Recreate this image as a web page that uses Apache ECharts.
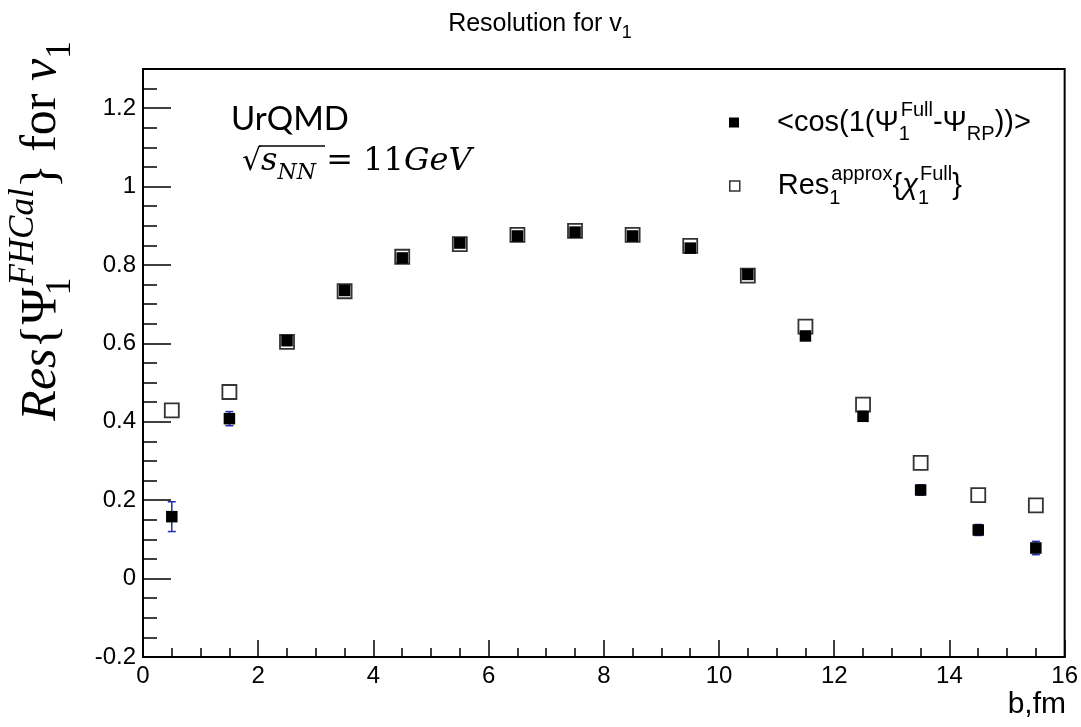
<!DOCTYPE html>
<html>
<head>
<meta charset="utf-8">
<script src="https://cdn.jsdelivr.net/npm/echarts@6/dist/echarts.min.js"></script>
<style>
html,body{margin:0;padding:0;background:#fff;}
#c{width:1081px;height:727px;}
</style>
</head>
<body>
<div id="c"></div>
<script>
// impact parameter bin centres (fm)
var bVals = [0.5, 1.5, 2.5, 3.5, 4.5, 5.5, 6.5, 7.5, 8.5, 9.5, 10.5, 11.5, 12.5, 13.5, 14.5, 15.5];
// <cos(1(Psi_1^Full - Psi_RP))>
var cosVals = [0.158, 0.408, 0.607, 0.735, 0.818, 0.856, 0.874, 0.884, 0.874, 0.843, 0.776, 0.619, 0.414, 0.226, 0.124, 0.078];
var cosErr  = [0.038, 0.018, 0.012, 0.010, 0.008, 0.007, 0.006, 0.006, 0.006, 0.007, 0.008, 0.010, 0.012, 0.013, 0.014, 0.017];
// Res_1^approx{chi_1^Full}
var resVals = [0.429, 0.476, 0.604, 0.733, 0.821, 0.853, 0.877, 0.887, 0.877, 0.849, 0.773, 0.643, 0.444, 0.295, 0.213, 0.187];
// axis ticks
var xMin = 0, xMax = 16, xMajor = 2, xMinor = 0.5;
var yMin = -0.2, yMax = 1.3, yMajor = 0.2, yMinor = 0.05;

var SANS = '"Liberation Sans", Arial, Helvetica, sans-serif';
var SERIF = '"Liberation Serif", "Times New Roman", serif';
var MATH = '"DejaVu Serif", "Liberation Serif", serif';

var chart = echarts.init(document.getElementById('c'), null, {renderer: 'canvas'});

var cosData = bVals.map(function (b, i) { return [b, cosVals[i]]; });
var resData = bVals.map(function (b, i) { return [b, resVals[i]]; });
var errData = bVals.map(function (b, i) { return [b, cosVals[i], cosErr[i]]; });

var legRich = {
  m:   {fontFamily: SANS, fontSize: 29, lineHeight: 44, verticalAlign: 'middle', color: '#000'},
  m0:  {fontFamily: SANS, fontSize: 29, lineHeight: 44, verticalAlign: 'middle', color: '#000', padding: [0, 0, 0, 33]},
  sub: {fontFamily: SANS, fontSize: 20, lineHeight: 26, verticalAlign: 'bottom', color: '#000', width: 2},
  subw:{fontFamily: SANS, fontSize: 20, lineHeight: 26, verticalAlign: 'bottom', color: '#000'},
  sup: {fontFamily: SANS, fontSize: 20, lineHeight: 28, verticalAlign: 'top', color: '#000'},
  chi: {fontFamily: SANS, fontSize: 29, lineHeight: 44, verticalAlign: 'middle', color: '#000', fontStyle: 'italic'}
};

var option = {
  animation: false,
  backgroundColor: '#fff',
  grid: {left: 143, right: 15, top: 69, bottom: 70, show: true, borderColor: '#000', borderWidth: 2, backgroundColor: 'transparent'},
  xAxis: [{
    type: 'value', min: xMin, max: xMax, interval: xMajor, position: 'bottom',
    axisLine: {show: true, onZero: false, lineStyle: {color: '#000', width: 2}},
    axisTick: {show: true, inside: true, length: 17, lineStyle: {color: '#000', width: 1.5}},
    axisLabel: {color: '#000', fontFamily: SANS, fontSize: 24, margin: 7},
    splitLine: {show: false}
  }, {
    type: 'value', min: xMin, max: xMax, interval: xMinor, position: 'bottom',
    axisLine: {show: false, onZero: false},
    axisTick: {show: true, inside: true, length: 9, lineStyle: {color: '#000', width: 1.5}},
    axisLabel: {show: false},
    splitLine: {show: false}
  }],
  yAxis: [{
    type: 'value', min: yMin, max: yMax, interval: yMajor, position: 'left',
    axisLine: {show: true, onZero: false, lineStyle: {color: '#000', width: 2}},
    axisTick: {show: true, inside: true, length: 28, lineStyle: {color: '#000', width: 1.5}},
    axisLabel: {color: '#000', fontFamily: SANS, fontSize: 24, margin: 7, showMaxLabel: false},
    splitLine: {show: false}
  }, {
    type: 'value', min: yMin, max: yMax, interval: yMinor, position: 'left',
    axisLine: {show: false, onZero: false},
    axisTick: {show: true, inside: true, length: 14, lineStyle: {color: '#000', width: 1.5}},
    axisLabel: {show: false},
    splitLine: {show: false}
  }],
  legend: [{
    data: ['cos'], left: 729, top: 100.5, orient: 'vertical', padding: 0,
    icon: 'rect', itemWidth: 10, itemHeight: 10,
    itemStyle: {color: '#000', borderWidth: 0, opacity: 1},
    textStyle: {fontFamily: SANS, fontSize: 29, color: '#000', rich: legRich},
    formatter: function () {
      return '{m0|<cos(1(Ψ}{sub|1}{sup|Full}{m|-Ψ}{subw|RP}{m|))>}';
    },
    selectedMode: false
  }, {
    data: ['res'], left: 729, top: 164, orient: 'vertical', padding: 0,
    icon: 'rect', itemWidth: 10, itemHeight: 10,
    itemStyle: {color: '#fff', borderColor: '#333', borderWidth: 1.5, opacity: 1},
    textStyle: {fontFamily: SANS, fontSize: 29, color: '#000', rich: legRich},
    formatter: function () {
      return '{m0|Res}{sub|1}{sup|approx}{m|{}{chi|χ}{sub|1}{sup|Full}{m|}}';
    },
    selectedMode: false
  }],
  series: [{
    name: 'err', type: 'custom', xAxisIndex: 0, yAxisIndex: 0, z: 1,
    data: errData,
    renderItem: function (params, api) {
      var x = api.value(0), y = api.value(1), e = api.value(2);
      var lo = api.coord([x, y - e]);
      var hi = api.coord([x, y + e]);
      var w = 4;
      var st = {stroke: '#2030b0', lineWidth: 1.5};
      return {
        type: 'group',
        children: [
          {type: 'line', shape: {x1: lo[0], y1: lo[1], x2: hi[0], y2: hi[1]}, style: st},
          {type: 'line', shape: {x1: lo[0] - w, y1: lo[1], x2: lo[0] + w, y2: lo[1]}, style: st},
          {type: 'line', shape: {x1: hi[0] - w, y1: hi[1], x2: hi[0] + w, y2: hi[1]}, style: st}
        ]
      };
    }
  }, {
    name: 'res', type: 'scatter', xAxisIndex: 0, yAxisIndex: 0, z: 2,
    symbol: 'rect', symbolSize: 14,
    itemStyle: {color: 'rgba(255,255,255,0)', borderColor: '#333', borderWidth: 1.8, opacity: 1},
    data: resData
  }, {
    name: 'cos', type: 'scatter', xAxisIndex: 0, yAxisIndex: 0, z: 3,
    symbol: 'rect', symbolSize: 11.5,
    itemStyle: {color: '#000', opacity: 1},
    data: cosData
  }],
  graphic: [
    {
      type: 'text', x: 540, y: 24, z: 10,
      style: {
        text: '{m|Resolution for v}{s|1}', align: 'center', verticalAlign: 'middle',
        rich: {
          m: {fontFamily: SANS, fontSize: 25, lineHeight: 36, verticalAlign: 'middle', fill: '#000'},
          s: {fontFamily: SANS, fontSize: 18, lineHeight: 22, verticalAlign: 'bottom', fill: '#000'}
        }
      }
    },
    {
      type: 'text', x: 231, y: 119, z: 10,
      style: {text: 'UrQMD', fontFamily: 'Lato, "Open Sans", sans-serif', fontSize: 33, fill: '#000', align: 'left', verticalAlign: 'middle'}
    },
    {
      type: 'text', x: 242, y: 162, z: 10,
      style: {
        text: '{r|√}{i|s}{n|NN}{u| = 11}{i|GeV}', align: 'left', verticalAlign: 'middle',
        rich: {
          r: {fontFamily: MATH, fontSize: 30, lineHeight: 44, verticalAlign: 'middle', fill: '#000'},
          i: {fontFamily: MATH, fontSize: 32, fontStyle: 'italic', lineHeight: 44, verticalAlign: 'middle', fill: '#000'},
          n: {fontFamily: MATH, fontSize: 22, fontStyle: 'italic', lineHeight: 30, verticalAlign: 'bottom', fill: '#000'},
          u: {fontFamily: MATH, fontSize: 32, lineHeight: 44, verticalAlign: 'middle', fill: '#000'}
        }
      }
    },
    {
      type: 'line', z: 10,
      shape: {x1: 259, y1: 146, x2: 325, y2: 146},
      style: {stroke: '#000', lineWidth: 1.5}
    },
    {
      type: 'text', x: 42, y: 231, rotation: Math.PI / 2, z: 10,
      style: {
        text: '{i|Res}{u|{}{u|Ψ}{s|1}{p|FHCal}{u|}}{u| for }{i|v}{s2|1}',
        fontFamily: SERIF, fontSize: 50, fill: '#000',
        align: 'center', verticalAlign: 'middle',
        rich: {
          i: {fontFamily: SERIF, fontSize: 50, fontStyle: 'italic', lineHeight: 72, verticalAlign: 'middle', fill: '#000'},
          u: {fontFamily: SERIF, fontSize: 50, lineHeight: 72, verticalAlign: 'middle', fill: '#000'},
          s: {fontFamily: SERIF, fontSize: 35, lineHeight: 44, verticalAlign: 'bottom', fill: '#000', width: 2},
          s2: {fontFamily: SERIF, fontSize: 35, lineHeight: 44, verticalAlign: 'bottom', fill: '#000'},
          p: {fontFamily: SERIF, fontSize: 35, fontStyle: 'italic', lineHeight: 46, verticalAlign: 'top', fill: '#000'}
        }
      }
    },
    {
      type: 'text', x: 1066, y: 705, z: 10,
      style: {text: 'b,fm', fontFamily: SANS, fontSize: 30, fill: '#000', align: 'right', verticalAlign: 'middle'}
    }
  ]
};
chart.setOption(option);
</script>
</body>
</html>
